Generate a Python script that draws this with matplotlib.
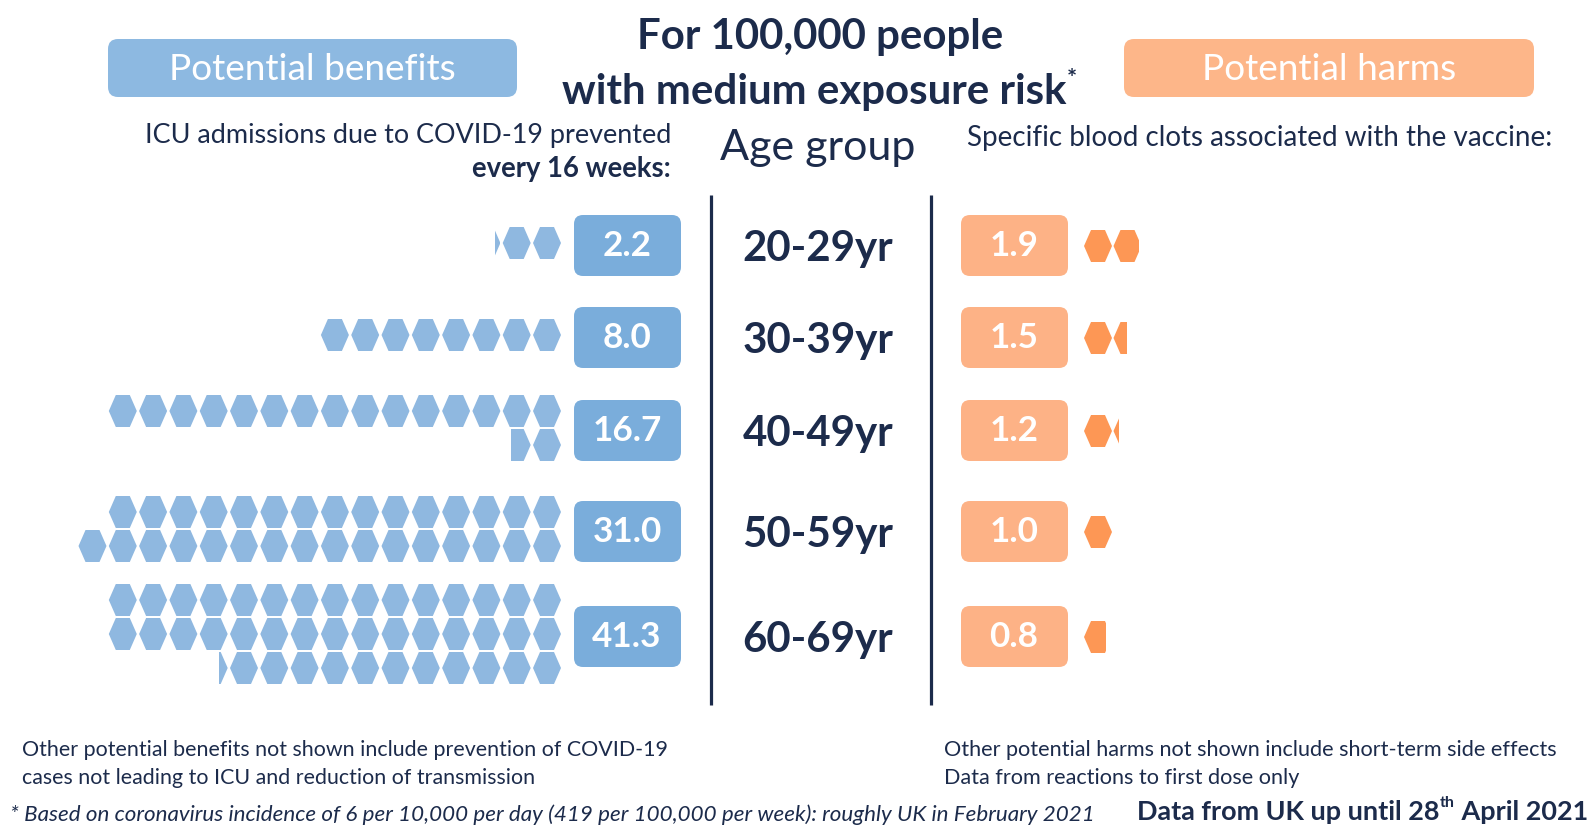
import numpy as np
import matplotlib.pyplot as plt
from matplotlib.patches import Polygon, FancyBboxPatch, Rectangle

plt.rcParams['font.family'] = ['Lato', 'DejaVu Sans']

#==============================================================================
#data
#==============================================================================
age_groups = ['20-29yr', '30-39yr', '40-49yr', '50-59yr', '60-69yr']
icu_prevented = [2.2, 8.0, 16.7, 31.0, 41.3]
blood_clots = [1.9, 1.5, 1.2, 1.0, 0.8]

title_lines = ['For 100,000 people', 'with medium exposure risk']
benefit_note = ['Other potential benefits not shown include prevention of COVID-19',
                'cases not leading to ICU and reduction of transmission']
harm_note = ['Other potential harms not shown include short-term side effects',
             'Data from reactions to first dose only']
footnote = ('* Based on coronavirus incidence of 6 per 10,000 per day '
            '(419 per 100,000 per week): roughly UK in February 2021')

#==============================================================================
#style
#==============================================================================
navy = '#1c2b4b'
blue_head = '#8db9e1'
blue_box = '#7aaddb'
blue_hex = '#8fb8e0'
orange_head = '#fdb689'
orange_box = '#fdb286'
orange_hex = '#fd9755'

PT = 0.72  # px -> pt at dpi 100

row_y = [246, 338, 431, 532, 637]
hex_w, hex_h = 28, 32
hex_dx, hex_dy = 30.3, 34


def hexagon(ax, cx, cy, color, frac=1.0, keep='right'):
    pts = [(cx - hex_w / 2, cy), (cx - hex_w / 4, cy - hex_h / 2),
           (cx + hex_w / 4, cy - hex_h / 2), (cx + hex_w / 2, cy),
           (cx + hex_w / 4, cy + hex_h / 2), (cx - hex_w / 4, cy + hex_h / 2)]
    p = Polygon(pts, closed=True, facecolor=color, edgecolor='none')
    ax.add_patch(p)
    if frac < 1:
        if keep == 'right':
            x0 = cx + hex_w / 2 - frac * hex_w
        else:
            x0 = cx - hex_w / 2
        clip = Rectangle((x0, cy - hex_h), frac * hex_w, 2 * hex_h,
                         transform=ax.transData)
        p.set_clip_path(clip)


def split_rows(v, cap=15):
    rows = []
    while v > cap + 1:
        rows.append(cap)
        v -= cap
    rows.append(v)
    return rows


def rbox(ax, x0, y0, x1, y1, color, r=9):
    ax.add_patch(FancyBboxPatch((x0, y0), x1 - x0, y1 - y0,
                                boxstyle='round,pad=0,rounding_size=%d' % r,
                                facecolor=color, edgecolor='none'))


fig = plt.figure(figsize=(15.94, 8.27), dpi=100)
ax = fig.add_axes([0, 0, 1, 1])
ax.set_xlim(0, 1594)
ax.set_ylim(827, 0)
ax.axis('off')
renderer = fig.canvas.get_renderer()

#title
ax.text(820, 37, title_lines[0], ha='center', va='center',
        fontsize=42 * PT, fontweight='bold', color=navy)
t2 = ax.text(814, 92, title_lines[1], ha='center', va='center',
             fontsize=42 * PT, fontweight='bold', color=navy)
bb = t2.get_window_extent(renderer)
x_star = ax.transData.inverted().transform((bb.x1, 0))[0]
ax.text(x_star + 1, 80, '*', ha='left', va='center',
        fontsize=24 * PT, fontweight='bold', color=navy)

#header boxes
rbox(ax, 108, 39, 517, 97, blue_head, r=10)
ax.text(312, 69, 'Potential benefits', ha='center', va='center',
        fontsize=37 * PT, color='white')
rbox(ax, 1124, 39, 1534, 97, orange_head, r=10)
ax.text(1329, 69, 'Potential harms', ha='center', va='center',
        fontsize=37 * PT, color='white')

#sub headers
ax.text(671, 135, 'ICU admissions due to COVID-19 prevented', ha='right',
        va='center', fontsize=27 * PT, color=navy)
ax.text(671, 169, 'every 16 weeks:', ha='right', va='center',
        fontsize=27.5 * PT, fontweight='bold', color=navy)
ax.text(818, 148, 'Age group', ha='center', va='center',
        fontsize=43 * PT, color=navy)
ax.text(967, 138, 'Specific blood clots associated with the vaccine:',
        ha='left', va='center', fontsize=27.8 * PT, color=navy)

#divider lines
ax.plot([711, 711], [195, 705], color=navy, lw=3.2 * PT, solid_capstyle='butt')
ax.plot([931, 931], [195, 705], color=navy, lw=3.2 * PT, solid_capstyle='butt')

for i, age in enumerate(age_groups):
    y = row_y[i]
    ax.text(818, y + 3, age, ha='center', va='center',
            fontsize=42 * PT, fontweight='bold', color=navy)

    #benefits
    rbox(ax, 574, y - 31, 681, y + 30, blue_box)
    ax.text(627, y, '%.1f' % icu_prevented[i], ha='center', va='center',
            fontsize=35 * PT, fontweight='bold', color='white')
    rows = split_rows(icu_prevented[i])
    y_top = y - 3 - (len(rows) - 1) * hex_dy / 2
    for r, n in enumerate(rows):
        cy = y_top + r * hex_dy
        for k in range(int(np.ceil(n - 1e-9))):
            frac = min(1.0, n - k)
            hexagon(ax, 547 - k * hex_dx, cy, blue_hex, frac, keep='right')

    #harms
    rbox(ax, 961, y - 31, 1068, y + 30, orange_box)
    ax.text(1014, y, '%.1f' % blood_clots[i], ha='center', va='center',
            fontsize=35 * PT, fontweight='bold', color='white')
    n = blood_clots[i]
    for k in range(int(np.ceil(n - 1e-9))):
        frac = min(1.0, n - k)
        hexagon(ax, 1098 + k * 29.5, y, orange_hex, frac, keep='left')

#notes
for j, line in enumerate(benefit_note):
    ax.text(22, 750 + 28 * j, line, ha='left', va='center',
            fontsize=21.4 * PT, color=navy)
for j, line in enumerate(harm_note):
    ax.text(944, 750 + 28 * j, line, ha='left', va='center',
            fontsize=21.7 * PT, color=navy)
ax.text(10, 815, footnote, ha='left', va='center', fontsize=22.4 * PT,
        style='italic', color=navy)

#data source with superscript
t_a = ax.text(1588, 812, ' April 2021', ha='right', va='center',
              fontsize=27 * PT, fontweight='bold', color=navy)
bb = t_a.get_window_extent(renderer)
x_th = ax.transData.inverted().transform((bb.x0, 0))[0]
t_th = ax.text(x_th, 803, 'th', ha='right', va='center',
               fontsize=16 * PT, fontweight='bold', color=navy)
bb = t_th.get_window_extent(renderer)
x_28 = ax.transData.inverted().transform((bb.x0, 0))[0]
ax.text(x_28, 812, 'Data from UK up until 28', ha='right', va='center',
        fontsize=27 * PT, fontweight='bold', color=navy)

plt.savefig('out.png', dpi=100)
plt.close()
